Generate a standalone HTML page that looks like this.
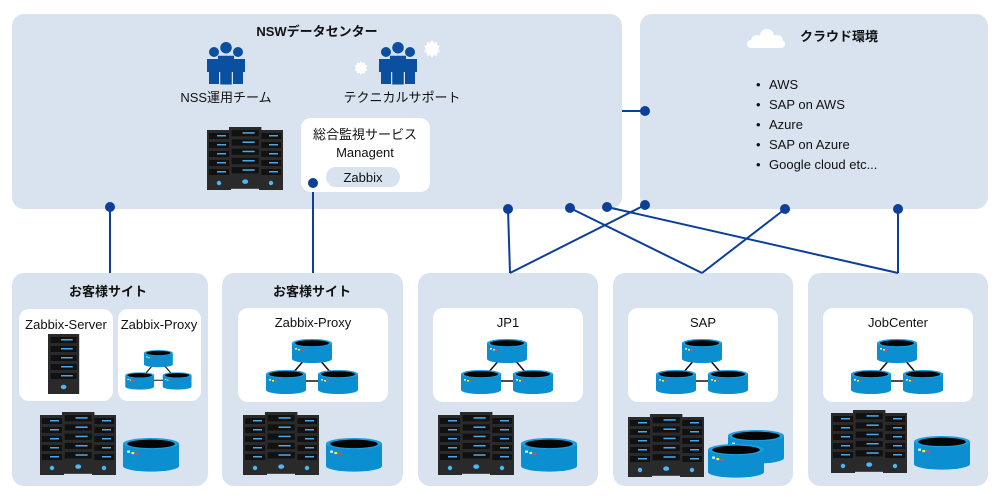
<!DOCTYPE html>
<html><head><meta charset="utf-8">
<style>
html,body{margin:0;padding:0;background:#fff;}
svg{display:block;}
text{font-family:"Liberation Sans","Noto Sans CJK JP",sans-serif;fill:#111;}
</style></head><body>
<svg width="1000" height="498" viewBox="0 0 1000 498" xmlns="http://www.w3.org/2000/svg">
<defs>
<g id="db">
  <rect x="0" y="4" width="40" height="16" fill="#0b8fd0"/>
  <ellipse cx="20" cy="20" rx="20" ry="4" fill="#0b8fd0"/>
  <ellipse cx="20" cy="4" rx="20" ry="4" fill="#1aa0e0"/>
  <ellipse cx="20" cy="4.2" rx="17" ry="3" fill="#050505"/>
  <rect x="3" y="9" width="2" height="1.5" fill="#fff"/><rect x="6" y="10" width="2" height="1.5" fill="#ff0"/><rect x="9" y="10.5" width="2" height="1.5" fill="#e44"/>
</g>
<g id="unit">
  <rect x="0" y="0" width="24" height="60" fill="#2a2a2a"/>
  <rect x="2" y="3" width="20" height="6" fill="#111"/><rect x="2" y="12" width="20" height="6" fill="#111"/><rect x="2" y="21" width="20" height="6" fill="#111"/><rect x="2" y="30" width="20" height="6" fill="#111"/><rect x="2" y="39" width="20" height="6" fill="#111"/>
  <g fill="#4aa8e8"><rect x="10" y="5" width="9" height="1.5"/><rect x="10" y="14" width="9" height="1.5"/><rect x="10" y="23" width="9" height="1.5"/><rect x="10" y="32" width="9" height="1.5"/><rect x="10" y="41" width="9" height="1.5"/></g>
  <circle cx="12" cy="53" r="2.2" fill="#4ab8f8"/>
</g>
<g id="cluster">
  <use href="#unit" x="0" y="3"/>
  <use href="#unit" x="52" y="3"/>
  <g transform="translate(22,0) scale(1.35,1.03)"><use href="#unit"/></g>
</g>
<g id="tri">
  <line x1="20" y1="12" x2="-6" y2="42" stroke="#111" stroke-width="1.5"/>
  <line x1="20" y1="12" x2="46" y2="42" stroke="#111" stroke-width="1.5"/>
  <line x1="-6" y1="42" x2="46" y2="42" stroke="#111" stroke-width="1.5"/>
  <use href="#db" x="0" y="0"/>
  <use href="#db" x="-26" y="31"/>
  <use href="#db" x="26" y="31"/>
</g>
<g id="person">
  <circle cx="0" cy="0" r="5" fill="#0b4fa0"/>
  <path d="M-7 7 h14 v13 h-2 v12 h-10 v-12 h-2z" fill="#0b4fa0"/>
</g>
<g id="people">
  <use href="#person" x="-12" y="2"/><use href="#person" x="12" y="2"/>
  <g transform="scale(1.15)"><use href="#person" x="0" y="-2"/></g>
</g>
<path id="gear" d="M0,-9 L2,-6 5,-7 5,-4 8,-3 6,0 8,3 5,4 5,7 2,6 0,9 -2,6 -5,7 -5,4 -8,3 -6,0 -8,-3 -5,-4 -5,-7 -2,-6Z" fill="#fff"/>
</defs>

<!-- top boxes -->
<rect x="12" y="14" width="610" height="195" rx="12" fill="#d9e3ef"/>
<rect x="640" y="14" width="348" height="195" rx="12" fill="#d9e3ef"/>
<!-- bottom boxes -->
<rect x="12" y="273" width="196" height="213" rx="12" fill="#d9e3ef"/>
<rect x="222" y="273" width="181" height="213" rx="12" fill="#d9e3ef"/>
<rect x="418" y="273" width="180" height="213" rx="12" fill="#d9e3ef"/>
<rect x="613" y="273" width="180" height="213" rx="12" fill="#d9e3ef"/>
<rect x="808" y="273" width="180" height="213" rx="12" fill="#d9e3ef"/>

<!-- connectors -->
<g stroke="#0b3f98" stroke-width="2" fill="none">
  <line x1="110" y1="207" x2="110" y2="273"/>
  <line x1="313" y1="183" x2="313" y2="273"/>
  <line x1="622" y1="111" x2="645" y2="111"/>
  <line x1="508" y1="209" x2="510" y2="273"/>
  <line x1="645" y1="205" x2="510" y2="273"/>
  <line x1="570" y1="208" x2="702" y2="273"/>
  <line x1="785" y1="209" x2="702" y2="273"/>
  <line x1="607" y1="207" x2="898" y2="273"/>
  <line x1="898" y1="209" x2="898" y2="273"/>
</g>

<!-- NSW content -->
<text x="317" y="36" font-size="13" font-weight="bold" text-anchor="middle">NSWデータセンター</text>
<use href="#people" x="226" y="50"/>
<text x="226" y="102" font-size="13" text-anchor="middle">NSS運用チーム</text>
<use href="#people" x="398" y="50"/>
<use href="#gear" x="432" y="49"/>
<g transform="translate(361,68) scale(0.8)"><use href="#gear"/></g>
<text x="402" y="102" font-size="13" text-anchor="middle">テクニカルサポート</text>
<use href="#cluster" x="207" y="127"/>
<rect x="301" y="118" width="129" height="74" rx="10" fill="#fff"/>
<text x="365" y="139" font-size="13" text-anchor="middle">総合監視サービス</text>
<text x="365" y="157" font-size="13" text-anchor="middle">Managent</text>
<rect x="326" y="167" width="74" height="20" rx="10" fill="#d9e3ef"/>
<text x="363" y="182" font-size="13" text-anchor="middle">Zabbix</text>

<!-- cloud -->
<g fill="#fff">
  <circle cx="767" cy="36" r="7"/><circle cx="757" cy="41" r="6"/><circle cx="777" cy="41" r="6"/>
  <rect x="747" y="40" width="38" height="8" rx="4"/>
</g>
<text x="800" y="41" font-size="13" font-weight="bold">クラウド環境</text>
<g font-size="13">
  <text x="756" y="89">•</text><text x="769" y="89">AWS</text>
  <text x="756" y="109">•</text><text x="769" y="109">SAP on AWS</text>
  <text x="756" y="129">•</text><text x="769" y="129">Azure</text>
  <text x="756" y="149">•</text><text x="769" y="149">SAP on Azure</text>
  <text x="756" y="169">•</text><text x="769" y="169">Google cloud etc...</text>
</g>

<!-- dots -->
<g fill="#0b3f98">
  <circle cx="110" cy="207" r="5"/><circle cx="313" cy="183" r="5"/><circle cx="645" cy="111" r="5"/>
  <circle cx="508" cy="209" r="5"/><circle cx="570" cy="208" r="5"/><circle cx="607" cy="207" r="5"/>
  <circle cx="645" cy="205" r="5"/><circle cx="785" cy="209" r="5"/><circle cx="898" cy="209" r="5"/>
</g>

<!-- site 1 -->
<text x="108" y="296" font-size="13" font-weight="bold" text-anchor="middle">お客様サイト</text>
<rect x="19" y="309" width="94" height="92" rx="10" fill="#fff"/>
<text x="66" y="329" font-size="13" text-anchor="middle">Zabbix-Server</text>
<g transform="translate(48,334) scale(1.3,1.0)"><use href="#unit"/></g>
<rect x="118" y="309" width="83" height="92" rx="10" fill="#fff"/>
<text x="159" y="329" font-size="13" text-anchor="middle">Zabbix-Proxy</text>
<g transform="translate(144,350) scale(0.72)"><use href="#tri"/></g>
<use href="#cluster" x="40" y="412"/>
<g transform="translate(123,438) scale(1.4,1.4)"><use href="#db"/></g>

<!-- site 2 -->
<text x="312" y="296" font-size="13" font-weight="bold" text-anchor="middle">お客様サイト</text>
<rect x="238" y="308" width="150" height="94" rx="10" fill="#fff"/>
<text x="313" y="327" font-size="13" text-anchor="middle">Zabbix-Proxy</text>
<use href="#tri" x="292" y="339"/>
<use href="#cluster" x="243" y="412"/>
<g transform="translate(326,438) scale(1.4,1.4)"><use href="#db"/></g>

<!-- JP1 -->
<rect x="433" y="308" width="150" height="94" rx="10" fill="#fff"/>
<text x="508" y="327" font-size="13" text-anchor="middle">JP1</text>
<use href="#tri" x="487" y="339"/>
<use href="#cluster" x="438" y="412"/>
<g transform="translate(521,438) scale(1.4,1.4)"><use href="#db"/></g>

<!-- SAP -->
<rect x="628" y="308" width="150" height="94" rx="10" fill="#fff"/>
<text x="703" y="327" font-size="13" text-anchor="middle">SAP</text>
<use href="#tri" x="682" y="339"/>
<use href="#cluster" x="628" y="414"/>
<g transform="translate(728,430) scale(1.4,1.4)"><use href="#db"/></g>
<g transform="translate(708,444) scale(1.4,1.4)"><use href="#db"/></g>

<!-- JobCenter -->
<rect x="823" y="308" width="150" height="94" rx="10" fill="#fff"/>
<text x="898" y="327" font-size="13" text-anchor="middle">JobCenter</text>
<use href="#tri" x="877" y="339"/>
<use href="#cluster" x="831" y="410"/>
<g transform="translate(914,436) scale(1.4,1.4)"><use href="#db"/></g>
</svg>
</body></html>
